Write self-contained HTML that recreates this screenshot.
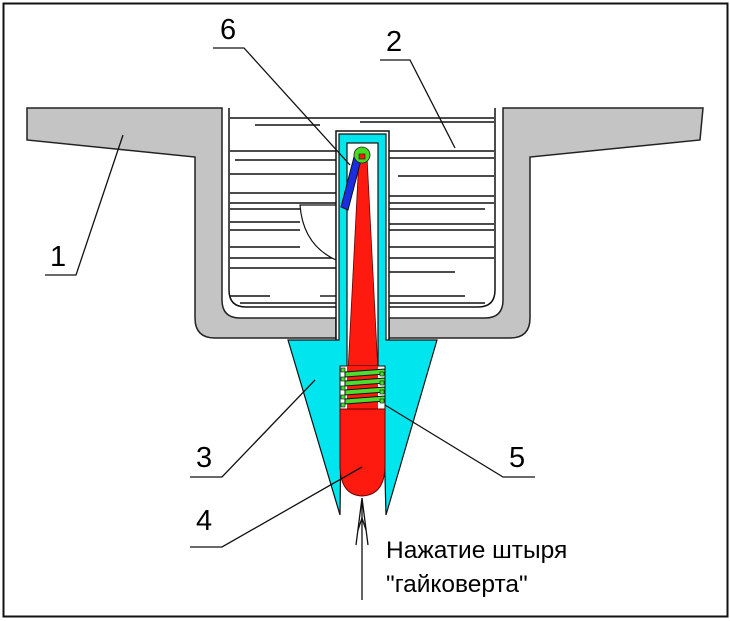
<!DOCTYPE html>
<html><head><meta charset="utf-8"><style>
html,body{margin:0;padding:0;background:#fff;}
svg{display:block;}
text{font-family:"Liberation Sans",sans-serif;fill:#000;}
</style></head><body>
<svg width="730" height="621" viewBox="0 0 730 621" xmlns="http://www.w3.org/2000/svg">
<rect x="0" y="0" width="730" height="621" fill="#fff"/>
<rect x="3.5" y="3.5" width="724" height="613" fill="none" stroke="#111" stroke-width="2"/>

<path d="M27,108 L222,108 L222,300 Q222,318 240,318 L336,318 L336,338 L215,338 Q195,338 195,318 L195,157 L27,140 Z" fill="#c4c4c4" stroke="#222" stroke-width="1.5"/>
<path d="M703,108 L503,108 L503,300 Q503,318 485,318 L389,318 L389,338 L510,338 Q530,338 530,318 L530,157 L700,140 Z" fill="#c4c4c4" stroke="#222" stroke-width="1.5"/>

<path d="M229,108 L229,290 Q229,307 246,307 L478,307 Q495,307 495,290 L495,108" fill="#fff" stroke="#111" stroke-width="1.5"/>
<g stroke="#111" stroke-width="1.4">
<line x1="230" y1="118" x2="494" y2="118"/>
<line x1="255" y1="125" x2="320" y2="125"/><line x1="360" y1="122" x2="494" y2="122"/>
<line x1="230" y1="151" x2="336" y2="151"/><line x1="389" y1="151" x2="494" y2="151"/>
<line x1="235" y1="160" x2="336" y2="160"/><line x1="389" y1="158" x2="494" y2="158"/>
<line x1="230" y1="174" x2="336" y2="174"/><line x1="398" y1="176" x2="494" y2="176"/>
<line x1="230" y1="193" x2="336" y2="193"/><line x1="389" y1="196" x2="494" y2="196"/>
<line x1="230" y1="203" x2="336" y2="203"/><line x1="389" y1="203" x2="494" y2="203"/>
<line x1="230" y1="209" x2="300" y2="209"/><line x1="389" y1="209" x2="485" y2="209"/>
<line x1="230" y1="222" x2="300" y2="222"/><line x1="389" y1="224" x2="494" y2="224"/>
<line x1="230" y1="230" x2="300" y2="230"/><line x1="389" y1="230" x2="494" y2="230"/>
<line x1="230" y1="247" x2="300" y2="247"/><line x1="389" y1="247" x2="494" y2="247"/>
<line x1="230" y1="258" x2="336" y2="258"/><line x1="389" y1="258" x2="494" y2="258"/>
<line x1="230" y1="268" x2="336" y2="268"/><line x1="389" y1="272" x2="455" y2="272"/>
<line x1="230" y1="296" x2="270" y2="296"/><line x1="320" y1="296" x2="336" y2="296"/><line x1="389" y1="296" x2="465" y2="296"/>
<line x1="240" y1="303" x2="336" y2="303"/><line x1="389" y1="303" x2="485" y2="303"/>
</g>
<path d="M300,205 L336,205 L336,260 Q303,245 300,205 Z" fill="#fff" stroke="#111" stroke-width="1.2"/>

<rect x="336" y="131" width="53" height="210" fill="#fff" stroke="#111" stroke-width="1.5"/>
<path d="M339,134 L386,134 L386,340 L437,340 L386,515 L384,440 L341,440 L340,515 L288,340 L339,340 Z" fill="#00e5ee" stroke="#111" stroke-width="1.2"/>
<rect x="347" y="143" width="31" height="230" fill="#fff" stroke="#111" stroke-width="1.2"/>

<path d="M359,157 L367,157 L378,372 L348,372 Z" fill="#ff1a10" stroke="#600" stroke-width="0.8"/>
<rect x="340" y="366" width="45" height="43" fill="#fff" stroke="#111" stroke-width="1"/>
<rect x="347" y="366" width="31" height="43" fill="#ff1a10"/>
<g stroke="#111" stroke-width="1" fill="#4ddd30">
<path d="M345,372 L385,369 L385,374 L345,377 Z"/>
<path d="M345,381 L385,378 L385,383 L345,386 Z"/>
<path d="M345,390 L385,387 L385,392 L345,395 Z"/>
<path d="M345,399 L385,396 L385,401 L345,404 Z"/>
</g>
<g fill="#4ddd30" stroke="#111" stroke-width="0.6">
<rect x="341" y="368" width="4" height="4"/><rect x="341" y="377" width="4" height="4"/><rect x="341" y="386" width="4" height="4"/><rect x="341" y="395" width="4" height="4"/><rect x="341" y="403" width="4" height="4"/>
<rect x="380" y="372" width="4" height="4"/><rect x="380" y="381" width="4" height="4"/><rect x="380" y="390" width="4" height="4"/><rect x="380" y="399" width="4" height="4"/>
</g>
<path d="M340,409 L385,409 L385,465 Q385,495 362,496 Q340,495 340,465 Z" fill="#ff1a10" stroke="#600" stroke-width="1"/>

<path d="M354,157 L361,160 L348,210 L341,207 Z" fill="#1a2ee0" stroke="#111" stroke-width="1"/>
<circle cx="362" cy="155" r="8" fill="#44dd22" stroke="#222" stroke-width="0.8"/>
<rect x="359" y="154" width="6" height="5" fill="#ff1a10" stroke="#111" stroke-width="0.6"/>

<g stroke="#111" stroke-width="1.3" fill="none">
<line x1="362" y1="500" x2="362" y2="600"/>
<path d="M356,545 L362,498 L368,545"/>
<path d="M358,530 L362,518 L366,530"/>
</g>

<g stroke="#111" stroke-width="1.3" fill="none">
<path d="M213,48 L244,48 L350,165"/>
<path d="M380,60 L410,60 L455,148"/>
<path d="M45,275 L76,275 L123,135"/>
<path d="M190,477 L222,477 L315,380"/>
<path d="M535,477 L503,477 L385,405"/>
<path d="M190,547 L222,547 L362,467"/>
</g>
<text x="220" y="39" font-size="29">6</text>
<text x="386" y="51" font-size="29">2</text>
<text x="50" y="266" font-size="29">1</text>
<text x="196" y="467" font-size="29">3</text>
<text x="509" y="467" font-size="29">5</text>
<text x="196" y="530" font-size="29">4</text>
<text x="386" y="558" font-size="24.5">Нажатие штыря</text>
<text x="386" y="592" font-size="24.5">"гайковерта"</text>
</svg>
</body></html>
